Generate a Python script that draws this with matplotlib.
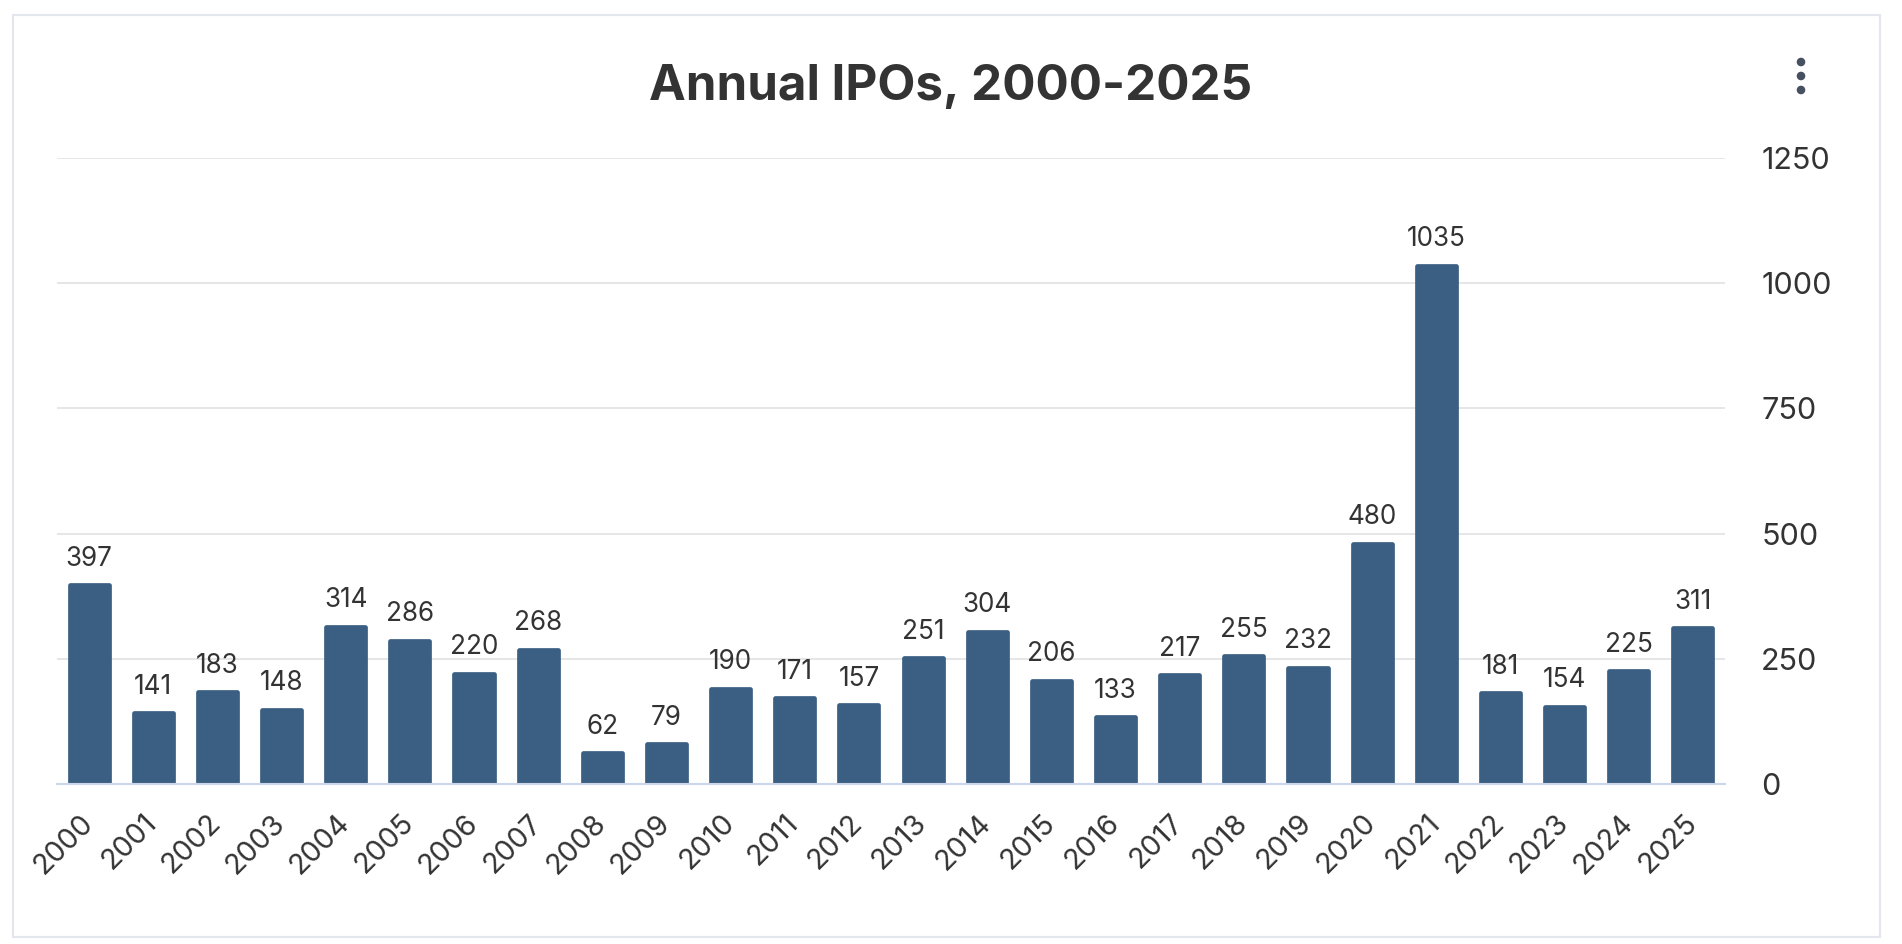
import numpy as np
import matplotlib
matplotlib.use("Agg")
import matplotlib.pyplot as plt
from matplotlib.patches import Rectangle, Circle
from matplotlib.transforms import ScaledTranslation

# ---------------------------------------------------------------------------
# Data
# ---------------------------------------------------------------------------
years = [str(y) for y in range(2000, 2026)]
ipos = [397, 141, 183, 148, 314, 286, 220, 268, 62, 79,
        190, 171, 157, 251, 304, 206, 133, 217, 255, 232,
        480, 1035, 181, 154, 225, 311]
y_ticks = [0, 250, 500, 750, 1000, 1250]

BAR_COLOR = "#3a5f82"
TEXT_COLOR = "#333333"
GRID_COLOR = "#e6e6e6"

plt.rcParams["font.family"] = ["Inter", "DejaVu Sans"]

W, H = 1902, 944
fig = plt.figure(figsize=(W / 100, H / 100), dpi=100)
fig.patch.set_facecolor("white")

# outer card border + menu dots (figure pixel space)
px = fig.dpi_scale_trans
fig.patches.append(Rectangle((13 / 100, (H - 937) / 100), (1880 - 13) / 100, (937 - 15) / 100,
                             transform=px, fill=False, edgecolor="#e3e6ec", linewidth=1.5))
for cy in (62, 76, 90):
    fig.patches.append(Circle((1801 / 100, (H - cy) / 100), 3.6 / 100,
                              transform=px, color="#465061"))

fig.text(0.5, 1 - 100 / H, "Annual IPOs, 2000-2025", ha="center", va="baseline",
         fontsize=35.5, fontweight="bold", color=TEXT_COLOR)

# ---------------------------------------------------------------------------
# Bars
# ---------------------------------------------------------------------------
ax = fig.add_axes([57 / W, 1 - 784 / H, (1725 - 57) / W, (784 - 158) / H])
x = np.arange(len(years))
ax.bar(x, ipos, width=0.61, color=BAR_COLOR, edgecolor=BAR_COLOR,
       linewidth=3.4, joinstyle="round", zorder=3)

for xi, v in zip(x, ipos):
    ax.annotate(str(v), (xi, v), xytext=(0, 14), textcoords="offset points",
                ha="center", va="baseline", fontsize=18.8, color=TEXT_COLOR)

ax.set_xlim(-0.5, len(years) - 0.5)
ax.set_ylim(0, 1250)
ax.set_yticks(y_ticks)
ax.yaxis.tick_right()
ax.tick_params(axis="y", length=0, pad=26, labelsize=22, labelcolor=TEXT_COLOR)
for lbl in ax.get_yticklabels():
    lbl.set_horizontalalignment("left")
ax.grid(axis="y", color=GRID_COLOR, linewidth=1.4, zorder=0)

ax.set_xticks(x)
ax.set_xticklabels(years, rotation=45, ha="right", rotation_mode="anchor", va="center")
ax.tick_params(axis="x", length=0, pad=25, labelsize=20.7, labelcolor=TEXT_COLOR)
shift = ScaledTranslation(0, 0, fig.dpi_scale_trans)
for lbl in ax.get_xticklabels():
    lbl.set_transform(lbl.get_transform() + shift)

for side in ("top", "left", "right"):
    ax.spines[side].set_visible(False)
ax.spines["bottom"].set_color("#ccd6eb")
ax.spines["bottom"].set_linewidth(1.5)
ax.spines["bottom"].set_zorder(4)
ax.set_axisbelow(True)

plt.savefig("out.png", dpi=100)
plt.close()
